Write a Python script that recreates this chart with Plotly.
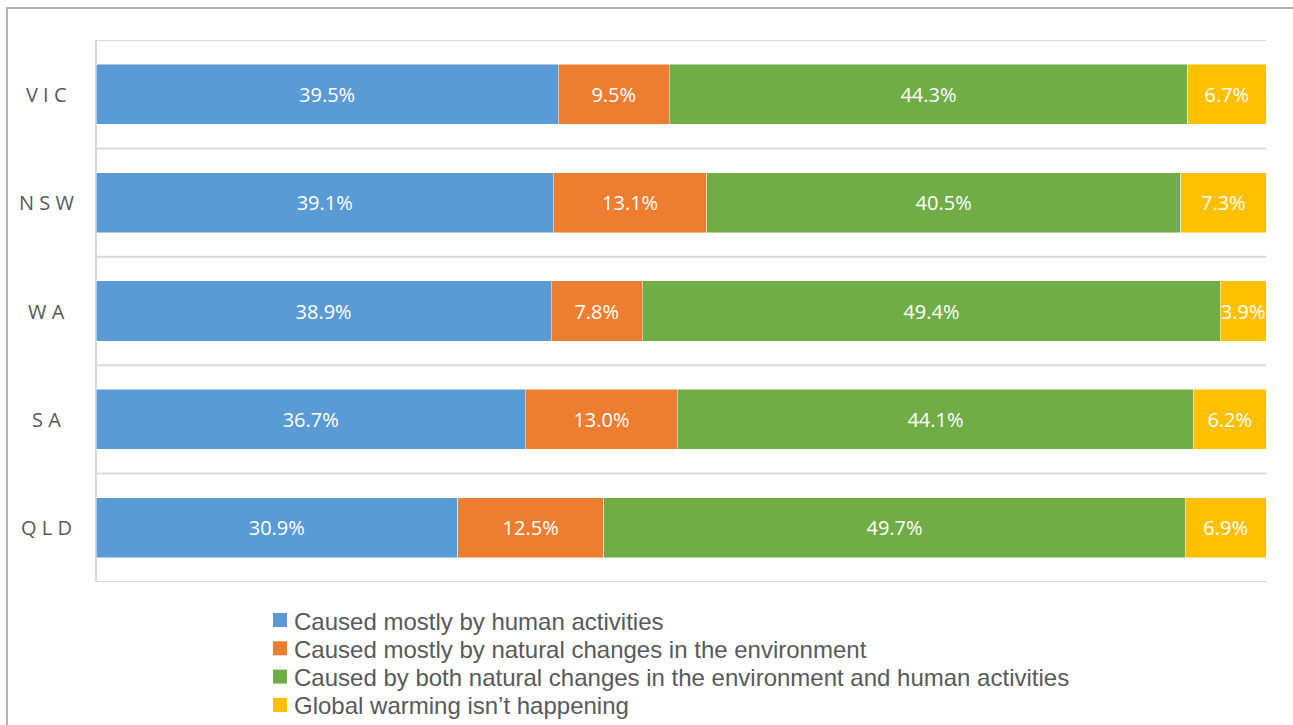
import plotly.graph_objects as go

states = ["VIC", "NSW", "WA", "SA", "QLD"]
human = [39.5, 39.1, 38.9, 36.7, 30.9]
natural = [9.5, 13.1, 7.8, 13.0, 12.5]
both = [44.3, 40.5, 49.4, 44.1, 49.7]
not_happening = [6.7, 7.3, 3.9, 6.2, 6.9]

series = [
    ("Caused mostly by human activities", human, "#5B9BD5"),
    ("Caused mostly by natural changes in the environment", natural, "#ED7D31"),
    ("Caused by both natural changes in the environment and human activities", both, "#70AD47"),
    ("Global warming isn\u2019t happening", not_happening, "#FFC000"),
]

FONT = "Open Sans, sans-serif"
LEGEND_FONT = "Liberation Sans, Arial, sans-serif"
W, H = 1293, 725
ML, MR, MT, MB = 96, 27, 40, 143
PW, PH = W - ML - MR, H - MT - MB


def px_x(px):
    return (px - ML) / PW


def px_y(py):
    return (H - MB - py) / PH


n = len(states)
ypos = [n - 1 - i for i in range(n)]  # first state on top

fig = go.Figure()
for name, vals, color in series:
    fig.add_trace(go.Bar(
        y=ypos, x=vals, orientation="h", name=name,
        marker=dict(color=color, line=dict(color="rgba(255,255,255,0.6)", width=0.8)),
        text=[f"{v:.1f}%" for v in vals], textposition="inside",
        insidetextanchor="middle", textangle=0, constraintext="none",
        textfont=dict(color="white", size=20, family=FONT),
        width=0.555, hoverinfo="skip", showlegend=False,
    ))

shapes = []
# horizontal gridlines between category bands
for k in range(n + 1):
    shapes.append(dict(type="line", xref="paper", yref="y", x0=0, x1=1,
                       y0=k - 0.5, y1=k - 0.5, line=dict(color="#D9D9D9", width=2), layer="below"))
# vertical axis line
shapes.append(dict(type="line", xref="paper", yref="y", x0=0, x1=0, y0=-0.5, y1=n - 0.5,
                   line=dict(color="#D9D9D9", width=2), layer="below"))
# chart frame
shapes.append(dict(type="rect", xref="paper", yref="paper",
                   x0=px_x(7), x1=px_x(W + 20), y0=px_y(H + 20), y1=px_y(8),
                   line=dict(color="#B4B4B4", width=2), layer="below"))

annotations = []
# category labels, letter-spaced
for st, y in zip(states, ypos):
    annotations.append(dict(text=" ".join(st), xref="paper", yref="y",
                            x=px_x(46), y=y, xanchor="center", yanchor="middle",
                            showarrow=False,
                            font=dict(size=20, color="#595959", family=FONT)))

# legend below the plot
for i, (name, _, color) in enumerate(series):
    cy = 620 + 28.3 * i
    shapes.append(dict(type="rect", xref="paper", yref="paper",
                       x0=px_x(273), x1=px_x(287), y0=px_y(cy + 7), y1=px_y(cy - 7),
                       fillcolor=color, line=dict(width=0)))
    annotations.append(dict(text=name, xref="paper", yref="paper",
                            x=px_x(292), y=px_y(cy + 1), xanchor="left", yanchor="middle",
                            showarrow=False,
                            font=dict(size=24, color="#595959", family=LEGEND_FONT)))

fig.update_layout(
    barmode="stack",
    width=W, height=H,
    margin=dict(l=ML, r=MR, t=MT, b=MB),
    paper_bgcolor="white", plot_bgcolor="white",
    xaxis=dict(range=[0, 100], showgrid=False, zeroline=False, showticklabels=False, fixedrange=True),
    yaxis=dict(range=[-0.5, n - 0.5], showgrid=False, zeroline=False, showticklabels=False, fixedrange=True),
    shapes=shapes, annotations=annotations,
    showlegend=False,
)

fig.write_html("out.html")
